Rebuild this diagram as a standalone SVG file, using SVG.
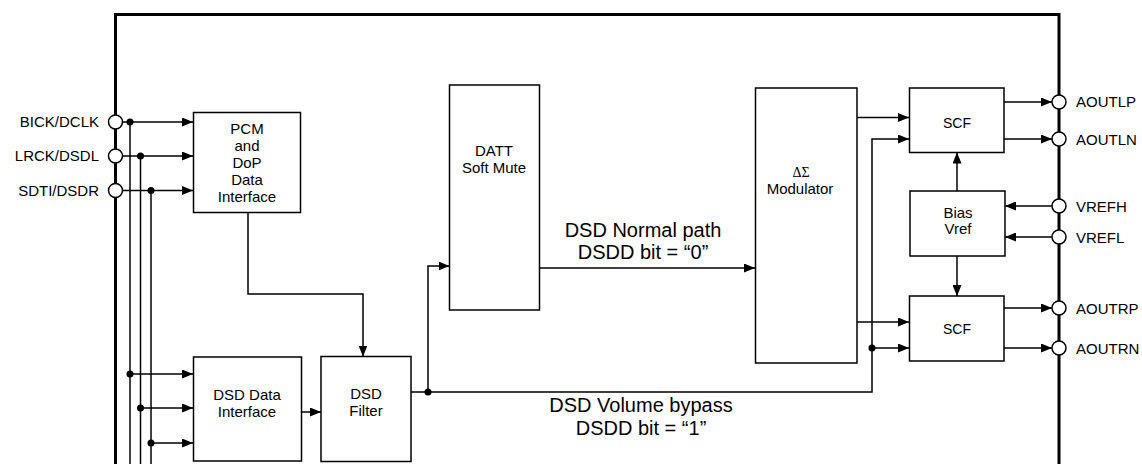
<svg xmlns="http://www.w3.org/2000/svg" width="1142" height="464" viewBox="0 0 1142 464">
<style>
.box{fill:#fff;stroke:#000;stroke-width:1.5}
.w{fill:none;stroke:#000;stroke-width:1.5}
.pin{fill:#fff;stroke:#000;stroke-width:1.5}
.t{font-family:"Liberation Sans",Arial,sans-serif;font-size:15px;fill:#000}
.c{text-anchor:middle}
.e{text-anchor:end}
.big{font-size:20px}
.sig{font-family:"Liberation Serif","Times New Roman",serif;font-size:14px;text-anchor:middle}
</style>
<defs>
<marker id="a" viewBox="0 0 11 9" refX="11" refY="4.5" markerWidth="11" markerHeight="9" markerUnits="userSpaceOnUse" orient="auto">
<path d="M0,0 L11,4.5 L0,9 z" fill="#000"/>
</marker>
</defs>
<rect width="1142" height="464" fill="#fff"/>
<path d="M115.5,464 V14.5 H1059 V464" fill="none" stroke="#000" stroke-width="3"/>
<g id="connectors">
<path class="w" d="M123,122 H193" marker-end="url(#a)"/>
<path class="w" d="M123,156 H193" marker-end="url(#a)"/>
<path class="w" d="M123,190.5 H193" marker-end="url(#a)"/>
<path class="w" d="M130,122 V464"/>
<path class="w" d="M140.5,156 V464"/>
<path class="w" d="M151,190.5 V464"/>
<path class="w" d="M130,374 H193" marker-end="url(#a)"/>
<path class="w" d="M140.5,408 H193" marker-end="url(#a)"/>
<path class="w" d="M151,443 H193" marker-end="url(#a)"/>
<path class="w" d="M248,212.5 V294 H363 V356.5" marker-end="url(#a)"/>
<path class="w" d="M301.5,412 H321" marker-end="url(#a)"/>
<path class="w" d="M411,392 H872 V139 H909" marker-end="url(#a)"/>
<path class="w" d="M428,392 V266 H449.5" marker-end="url(#a)"/>
<path class="w" d="M539.5,268 H755" marker-end="url(#a)"/>
<path class="w" d="M857,117.5 H909" marker-end="url(#a)"/>
<path class="w" d="M857,322 H909" marker-end="url(#a)"/>
<path class="w" d="M872,348 H909" marker-end="url(#a)"/>
<path class="w" d="M957,191 V152.5" marker-end="url(#a)"/>
<path class="w" d="M957,256 V296" marker-end="url(#a)"/>
<path class="w" d="M1004,102 H1052" marker-end="url(#a)"/>
<path class="w" d="M1004,139 H1052" marker-end="url(#a)"/>
<path class="w" d="M1004,308 H1052" marker-end="url(#a)"/>
<path class="w" d="M1004,348 H1052" marker-end="url(#a)"/>
<path class="w" d="M1052,206 H1005" marker-end="url(#a)"/>
<path class="w" d="M1052,237 H1005" marker-end="url(#a)"/>
<g fill="#000">
<circle cx="130" cy="122" r="3.5"/>
<circle cx="140.5" cy="156" r="3.5"/>
<circle cx="151" cy="190.5" r="3.5"/>
<circle cx="130" cy="374" r="3.5"/>
<circle cx="140.5" cy="408" r="3.5"/>
<circle cx="151" cy="443" r="3.5"/>
<circle cx="428" cy="392" r="3.5"/>
<circle cx="872" cy="348" r="3.5"/>
</g>
<text class="t c big" x="643" y="237">DSD Normal path</text>
<text class="t c big" x="643" y="259">DSDD bit = “0”</text>
<text class="t c big" x="641" y="412">DSD Volume bypass</text>
<text class="t c big" x="641" y="435">DSDD bit = “1”</text>
</g>
<g id="pin-bick"><circle class="pin" cx="115.5" cy="122" r="7"/><text class="t e" x="99" y="127">BICK/DCLK</text></g>
<g id="pin-lrck"><circle class="pin" cx="115.5" cy="156" r="7"/><text class="t e" x="99" y="161">LRCK/DSDL</text></g>
<g id="pin-sdti"><circle class="pin" cx="115.5" cy="190.5" r="7"/><text class="t e" x="99" y="195.5">SDTI/DSDR</text></g>
<g id="pcm"><rect class="box" x="193.5" y="112.5" width="107" height="100"/>
<text class="t c" x="247" y="134">PCM</text><text class="t c" x="247" y="151">and</text><text class="t c" x="247" y="168">DoP</text><text class="t c" x="247" y="185">Data</text><text class="t c" x="247" y="202">Interface</text></g>
<g id="dsdif"><rect class="box" x="193.5" y="357" width="108" height="104"/>
<text class="t c" x="247" y="400">DSD Data</text><text class="t c" x="247" y="417">Interface</text></g>
<g id="dsdfilter"><rect class="box" x="321" y="356.5" width="90" height="105"/>
<text class="t c" x="366" y="399">DSD</text><text class="t c" x="366" y="416">Filter</text></g>
<g id="datt"><rect class="box" x="449.5" y="85" width="90" height="225"/>
<text class="t c" x="494" y="156">DATT</text><text class="t c" x="494" y="173">Soft Mute</text></g>
<g id="modulator"><rect class="box" x="755.5" y="88" width="101.5" height="275"/>
<text class="sig" x="801" y="177">ΔΣ</text><text class="t c" x="800" y="193.5">Modulator</text></g>
<g id="scf-l"><rect class="box" x="909.5" y="88" width="94.5" height="64.5"/>
<text class="t c" x="957" y="128" style="font-size:14px">SCF</text></g>
<g id="bias"><rect class="box" x="910" y="191" width="95" height="65"/>
<text class="t c" x="958" y="218">Bias</text><text class="t c" x="958" y="233.5">Vref</text></g>
<g id="scf-r"><rect class="box" x="909.5" y="296" width="94.5" height="65"/>
<text class="t c" x="957" y="334" style="font-size:14px">SCF</text></g>
<g id="pin-aoutlp"><circle class="pin" cx="1059" cy="102" r="7"/><text class="t" x="1076" y="107">AOUTLP</text></g>
<g id="pin-aoutln"><circle class="pin" cx="1059" cy="139" r="7"/><text class="t" x="1076" y="144.5">AOUTLN</text></g>
<g id="pin-vrefh"><circle class="pin" cx="1059" cy="206" r="7"/><text class="t" x="1076" y="211.5">VREFH</text></g>
<g id="pin-vrefl"><circle class="pin" cx="1059" cy="237" r="7"/><text class="t" x="1076" y="242.5">VREFL</text></g>
<g id="pin-aoutrp"><circle class="pin" cx="1059" cy="308" r="7"/><text class="t" x="1076" y="313.5">AOUTRP</text></g>
<g id="pin-aoutrn"><circle class="pin" cx="1059" cy="348" r="7"/><text class="t" x="1076" y="353.5">AOUTRN</text></g>
</svg>
